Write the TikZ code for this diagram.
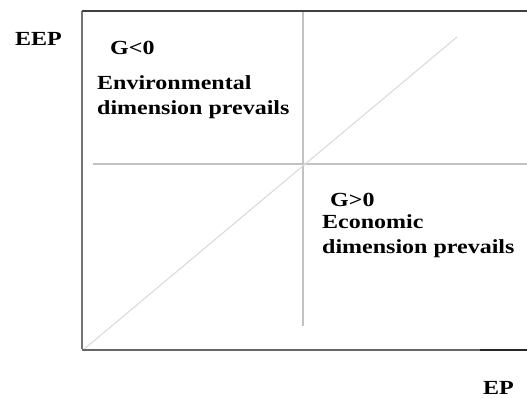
\documentclass[tikz,border=0pt]{standalone}
\usepackage{fontspec}
\setmainfont{Liberation Serif}[FakeStretch=1.2]
\begin{document}
\begin{tikzpicture}[x=1bp,y=-1bp,
  lbl/.style={anchor=base west,inner sep=0pt,font=\fontsize{20bp}{25bp}\selectfont\bfseries,text=black},
  axisline/.style={line width=1.6bp,draw=black!60},
  gridline/.style={line width=2.8bp,draw=black!24},
  diagline/.style={line width=1.1bp,draw=black!14}]
\useasboundingbox[fill=white] (0,0) rectangle (527,398);
% frame coordinates
\coordinate (O) at (82,350);
\coordinate (TL) at (82,11);
\coordinate (TR) at (527,11);
\coordinate (BR) at (527,350);
\coordinate (BD) at (480,350);
\coordinate (Htl) at (93,164);
\coordinate (Htr) at (527,164);
\coordinate (Vt) at (303,11);
\coordinate (Vb) at (303,326);
\coordinate (Ds) at (83,350);
\coordinate (De) at (457,37);
% lines
\draw[gridline] (Htl) -- (Htr);
\draw[gridline] (Vt) -- (Vb);
\draw[diagline] (Ds) -- (De);
\draw[line width=1.6bp,draw=black!55] ([yshift=1bp]O) -- (TL);
\draw[line width=1.6bp,draw=black!75] (TL) -- (TR);
\draw[axisline] (O) -- (BR);
\draw[line width=1.6bp,draw=black!85] (BD) -- (BR);
% labels
\node[lbl] (eep) at (15,45.5) {EEP};
\node[lbl] (gneg) at (110,54) {G<0};
\node[lbl] (env1) at (97,89) {Environmental};
\node[lbl] (env2) at (97,114) {dimension prevails};
\node[lbl] (gpos) at (330,206) {G>0};
\node[lbl] (eco1) at (322,228) {Economic};
\node[lbl] (eco2) at (322,253) {dimension prevails};
\node[lbl] (ep) at (483,394) {EP};
\end{tikzpicture}
\end{document}
